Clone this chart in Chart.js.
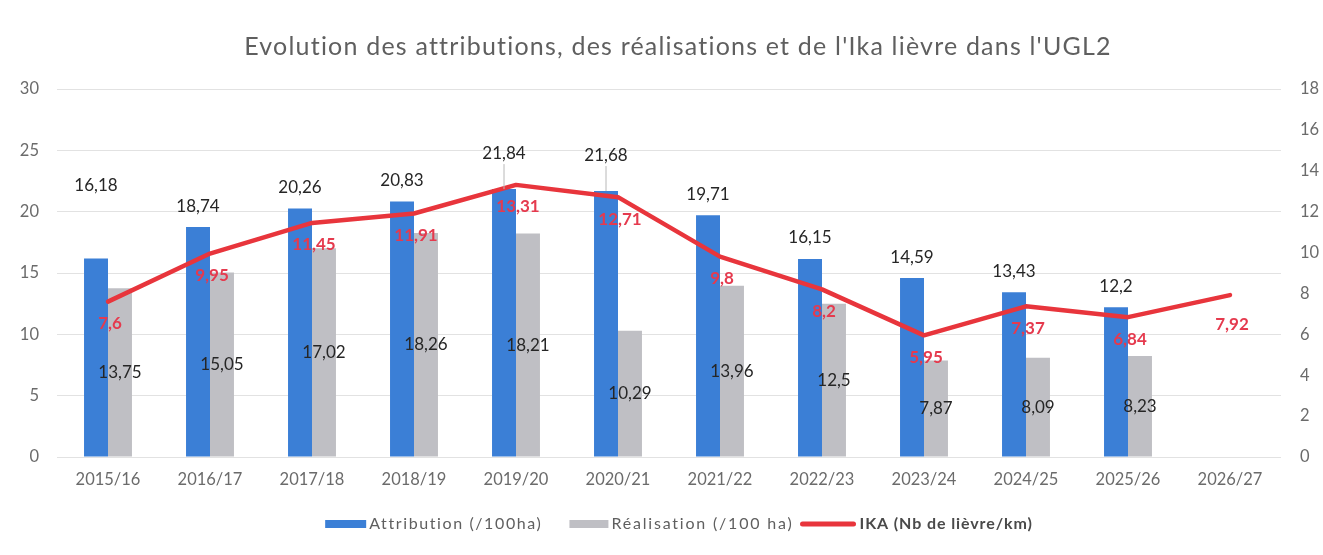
<!DOCTYPE html>
<html><head><meta charset="utf-8">
<script src="https://cdn.jsdelivr.net/npm/chart.js@4.4.1/dist/chart.umd.min.js"></script>
<style>html,body{margin:0;padding:0;background:#fff;overflow:hidden}#wrap{width:1323px;height:555px;position:relative}</style>
</head><body><div id="wrap"><canvas id="c"></canvas></div>
<script>
const categories = ['2015/16','2016/17','2017/18','2018/19','2019/20','2020/21','2021/22','2022/23','2023/24','2024/25','2025/26','2026/27'];
const attribution = [16.18,18.74,20.26,20.83,21.84,21.68,19.71,16.15,14.59,13.43,12.2,null];
const realisation = [13.75,15.05,17.02,18.26,18.21,10.29,13.96,12.5,7.87,8.09,8.23,null];
const ika = [7.6,9.95,11.45,11.91,13.31,12.71,9.8,8.2,5.95,7.37,6.84,7.92];
const leftTicks = [0,5,10,15,20,25,30];
const rightTicks = [0,2,4,6,8,10,12,14,16,18];
const seriesNames = ['Attribution (/100ha)','Réalisation (/100 ha)','IKA (Nb de lièvre/km)'];
const title = "Evolution des attributions, des réalisations et de l'Ika lièvre dans l'UGL2";

const FONT = 'Lato, "Open Sans", sans-serif';
const BLUE = '#3b7fd6', GREY = '#bfbfc4', RED = '#e8353c', RED_TXT = '#e53a4e', TXT = '#262626', AX = '#6b6b6b';
const fmt = v => String(v).replace('.', ',');

const labelPlugin = {
  id: 'labels',
  afterDatasetsDraw(chart, args, opts) {
    const ctx = chart.ctx;
    ctx.save();
    ctx.textAlign = 'center';
    ctx.textBaseline = 'middle';
    const m0 = chart.getDatasetMeta(0);
    m0.data.forEach((el, i) => {
      const v = attribution[i]; if (v == null) return;
      const off = (opts.blueOffsets && opts.blueOffsets[i]) || 21;
      const ly = el.y - off;
      if (opts.leaders && opts.leaders.includes(i)) {
        ctx.strokeStyle = '#b8b8b8'; ctx.lineWidth = 1;
        ctx.beginPath(); ctx.moveTo(el.x, ly + 11); ctx.lineTo(el.x, el.y); ctx.stroke();
      }
      ctx.font = '17px ' + FONT; ctx.fillStyle = TXT;
      ctx.fillText(fmt(v), el.x, ly);
    });
    const m1 = chart.getDatasetMeta(1);
    m1.data.forEach((el, i) => {
      const v = realisation[i]; if (v == null) return;
      ctx.font = '17px ' + FONT; ctx.fillStyle = TXT;
      ctx.fillText(fmt(v), el.x, (el.y + el.base) / 2);
    });
    const m2 = chart.getDatasetMeta(2);
    m2.data.forEach((el, i) => {
      const v = ika[i]; if (v == null) return;
      const off = i === ika.length - 1 ? 29 : 22;
      ctx.font = 'bold 17px ' + FONT; ctx.fillStyle = RED_TXT;
      ctx.fillText(fmt(v), el.x + 2, el.y + off);
    });
    ctx.restore();
  },
  afterDraw(chart) {
    const ctx = chart.ctx;
    ctx.save();
    ctx.fillStyle = '#5f5f5f';
    ctx.font = '25px ' + FONT;
    ctx.textAlign = 'center'; ctx.textBaseline = 'middle';
    if ('letterSpacing' in ctx) ctx.letterSpacing = '1.2px';
    ctx.fillText(title, 678, 47);
    // legend
    const y = 524;
    const items = [
      {c: BLUE, t: seriesNames[0], bold: false, line: false, w: 41, ls: '1.6px', after: 27},
      {c: GREY, t: seriesNames[1], bold: false, line: false, w: 39, ls: '1.8px', after: 6},
      {c: RED, t: seriesNames[2], bold: true, line: true, w: 57, ls: '0.9px', after: 0}
    ];
    ctx.textAlign = 'left';
    const setF = it => { ctx.font = (it.bold ? 'bold ' : '') + '16px ' + FONT; if ('letterSpacing' in ctx) ctx.letterSpacing = it.ls; };
    const widths = items.map(it => { setF(it); return ctx.measureText(it.t).width; });
    const gap = 3;
    let total = 0; items.forEach((it, k) => total += it.w + gap + widths[k] + it.after);
    let x = 679 - total / 2;
    items.forEach((it, k) => {
      if (it.line) {
        ctx.strokeStyle = it.c; ctx.lineWidth = 5; ctx.lineCap = 'round';
        ctx.beginPath(); ctx.moveTo(x + 3, y); ctx.lineTo(x + it.w - 3, y); ctx.stroke();
      } else {
        ctx.fillStyle = it.c; ctx.fillRect(x, y - 4, it.w, 8);
      }
      x += it.w + gap;
      setF(it);
      ctx.fillStyle = it.bold ? '#4a4a4a' : '#5f5f5f';
      ctx.fillText(it.t, x, y);
      x += widths[k] + it.after;
    });
    ctx.restore();
  }
};

new Chart(document.getElementById('c'), {
  data: {
    labels: categories,
    datasets: [
      {type: 'bar', label: seriesNames[0], data: attribution, backgroundColor: BLUE, yAxisID: 'y', order: 1,
       categoryPercentage: 0.47, barPercentage: 1},
      {type: 'bar', label: seriesNames[1], data: realisation, backgroundColor: GREY, yAxisID: 'y', order: 2,
       categoryPercentage: 0.47, barPercentage: 1},
      {type: 'line', label: seriesNames[2], data: ika, borderColor: RED, borderWidth: 4.5, pointRadius: 0,
       tension: 0, yAxisID: 'y1', order: 0, borderCapStyle: 'round', borderJoinStyle: 'round'}
    ]
  },
  options: {
    responsive: true, maintainAspectRatio: false, animation: false,
    layout: {padding: {top: 89, left: 0, right: 0, bottom: 0}},
    plugins: {legend: {display: false}, title: {display: false}, tooltip: {enabled: false},
      labels: {blueOffsets: {0: 73, 4: 36, 5: 36}, leaders: [4, 5]}},
    scales: {
      x: {
        grid: {display: false, drawTicks: false}, border: {display: false},
        ticks: {color: AX, font: {family: FONT, size: 16.5}, padding: 13},
        afterFit(s) { s.height = 98; }
      },
      y: {
        position: 'left', min: 0, max: 30,
        afterBuildTicks(s) { s.ticks = leftTicks.map(v => ({value: v})); },
        grid: {color: '#e2e2e2', lineWidth: 1, drawTicks: false}, border: {display: false},
        ticks: {color: AX, font: {family: FONT, size: 16.5}, padding: 18},
        afterFit(s) { s.width = 57; }
      },
      y1: {
        position: 'right', min: 0, max: 18,
        afterBuildTicks(s) { s.ticks = rightTicks.map(v => ({value: v})); },
        grid: {display: false, drawOnChartArea: false, drawTicks: false}, border: {display: false},
        ticks: {color: AX, font: {family: FONT, size: 16.5}, padding: 19},
        afterFit(s) { s.width = 42; }
      }
    }
  },
  plugins: [labelPlugin]
});
</script>
</body></html>
